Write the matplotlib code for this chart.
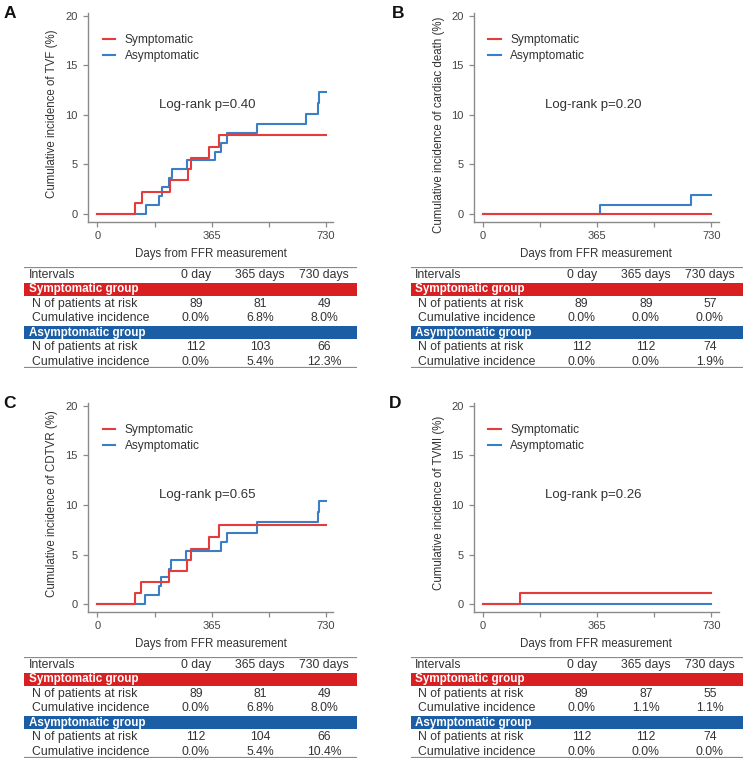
import matplotlib
matplotlib.use("Agg")
import matplotlib.pyplot as plt
from matplotlib.ticker import FixedLocator

plt.rcParams['font.family'] = ['Liberation Sans', 'DejaVu Sans']

# ---- data ----
panel_letters = ['A', 'B', 'C', 'D']
endpoints = ['TVF', 'cardiac death', 'CDTVR', 'TVMI']
logrank_p = ['0.40', '0.20', '0.65', '0.26']

# step curves (day of event, cumulative incidence %)
sym_days = [
    [0, 120, 141, 232, 288, 299, 355, 387, 730],
    [0, 730],
    [0, 121, 138, 228, 286, 299, 356, 387, 730],
    [0, 120, 730],
]
sym_inc = [
    [0, 1.1, 2.2, 3.4, 4.5, 5.6, 6.8, 8.0, 8.0],
    [0, 0],
    [0, 1.1, 2.2, 3.4, 4.5, 5.6, 6.8, 8.0, 8.0],
    [0, 1.1, 1.1],
]
asym_days = [
    [0, 155, 198, 205, 230, 237, 286, 376, 394, 413, 509, 666, 704, 707, 730],
    [0, 374, 666, 730],
    [0, 153, 196, 203, 228, 236, 284, 394, 413, 509, 703, 707, 730],
    [0, 730],
]
asym_inc = [
    [0, 0.9, 1.8, 2.7, 3.6, 4.5, 5.4, 6.3, 7.2, 8.2, 9.1, 10.1, 11.2, 12.3, 12.3],
    [0, 0.9, 1.9, 1.9],
    [0, 0.9, 1.8, 2.7, 3.6, 4.5, 5.4, 6.3, 7.2, 8.3, 9.3, 10.4, 10.4],
    [0, 0],
]

# risk tables
intervals = ['0 day', '365 days', '730 days']
sym_risk = [[89, 81, 49], [89, 89, 57], [89, 81, 49], [89, 87, 55]]
sym_cum = [[0.0, 6.8, 8.0], [0.0, 0.0, 0.0], [0.0, 6.8, 8.0], [0.0, 1.1, 1.1]]
asym_risk = [[112, 103, 66], [112, 112, 74], [112, 104, 66], [112, 112, 74]]
asym_cum = [[0.0, 5.4, 12.3], [0.0, 0.0, 1.9], [0.0, 5.4, 10.4], [0.0, 0.0, 0.0]]

# ---- style ----
RED = '#E63B3B'
BLUE = '#3A7FC6'
BAND_RED = '#D81F22'
BAND_BLUE = '#1B5EA6'
GREY = '#8a8a8a'
TXT = '#333333'

W, H = 746, 764
fig = plt.figure(figsize=(W / 100, H / 100), dpi=100)


def px_axes(l, t, r, b):
    return fig.add_axes([l / W, 1 - b / H, (r - l) / W, (b - t) / H])


plot_boxes = [(88, 13.3, 333.5, 222), (473.5, 13.3, 719, 222),
              (88, 403.3, 333.5, 612.3), (473.5, 403.3, 719, 612.3)]
table_boxes = [(24.3, 267.3, 356.7, 368.3), (410.5, 267.3, 742.5, 368.3),
               (24.3, 657.3, 356.7, 758.3), (410.5, 657.3, 742.5, 758.3)]
letter_pos = [(4, 14), (392, 14), (3, 404), (389, 404)]
ylab_x = [-0.122, -0.115, -0.122, -0.118]
ylab_y = [0.52, 0.465, 0.52, 0.525]

for i in range(4):
    ax = px_axes(*plot_boxes[i])
    ax.step(asym_days[i], asym_inc[i], where='post', color=BLUE, lw=1.5, label='Asymptomatic')
    ax.step(sym_days[i], sym_inc[i], where='post', color=RED, lw=1.5, label='Symptomatic')
    ax.set_xlim(-30, 754)
    ax.set_ylim(-0.81, 20.24)
    ax.set_xticks([0, 365, 730])
    ax.xaxis.set_minor_locator(FixedLocator([182.5, 547.5]))
    ax.set_yticks([0, 5, 10, 15, 20])
    for s in ['top', 'right']:
        ax.spines[s].set_visible(False)
    for s in ['left', 'bottom']:
        ax.spines[s].set_color(GREY)
        ax.spines[s].set_linewidth(1.0)
    ax.tick_params(which='both', direction='out', length=3.8, width=0.9, color=GREY,
                   labelsize=8, labelcolor='#444444')
    ax.tick_params(axis='x', pad=2.5)
    ax.tick_params(axis='y', pad=3.5)
    ax.set_xlabel('Days from FFR measurement', fontsize=8.3, color=TXT, labelpad=5)
    ax.set_ylabel('Cumulative incidence of %s (%%)' % endpoints[i], fontsize=8.3, color=TXT)
    ax.yaxis.set_label_coords(ylab_x[i], ylab_y[i])
    h, l = ax.get_legend_handles_labels()
    ax.legend(h[::-1], l[::-1], loc='upper left', bbox_to_anchor=(0.06, 0.90), frameon=False,
              fontsize=8.6, handlelength=1.05, handletextpad=0.8, labelspacing=0.3,
              borderpad=0, borderaxespad=0, labelcolor=TXT)
    ax.text(352, 11.0, 'Log-rank p=' + logrank_p[i], ha='center', va='center',
            fontsize=9.5, color=TXT)
    fig.text(letter_pos[i][0] / W, 1 - letter_pos[i][1] / H, panel_letters[i],
             ha='left', va='center', fontsize=12.5, fontweight='bold', color='#111111')

    # table
    tx = px_axes(*table_boxes[i])
    tx.set_xlim(0, 1)
    tx.set_ylim(6.47, -0.53)
    tx.axis('off')
    tx.axhline(-0.53, color=GREY, lw=1.6)
    tx.axhline(6.47, color=GREY, lw=1.6)
    tx.axhspan(1 - 0.465, 1 + 0.465, color=BAND_RED, lw=0)
    tx.axhspan(4 - 0.465, 4 + 0.465, color=BAND_BLUE, lw=0)
    cols = [0.516, 0.709, 0.902]
    fs = 8.8
    tx.text(0.014, 0, 'Intervals', ha='left', va='center', fontsize=fs, color=TXT)
    for c, lab in zip(cols, intervals):
        tx.text(c, 0, lab, ha='center', va='center', fontsize=fs, color=TXT)
    tx.text(0.014, 1, 'Symptomatic group', ha='left', va='center', fontsize=8.4,
            color='white', fontweight='bold')
    tx.text(0.014, 4, 'Asymptomatic group', ha='left', va='center', fontsize=8.4,
            color='white', fontweight='bold')
    rows = [(2, 'N of patients at risk', [str(v) for v in sym_risk[i]]),
            (3, 'Cumulative incidence', ['%.1f%%' % v for v in sym_cum[i]]),
            (5, 'N of patients at risk', [str(v) for v in asym_risk[i]]),
            (6, 'Cumulative incidence', ['%.1f%%' % v for v in asym_cum[i]])]
    for r, lab, vals in rows:
        tx.text(0.024, r, lab, ha='left', va='center', fontsize=fs, color=TXT)
        for c, v in zip(cols, vals):
            tx.text(c, r, v, ha='center', va='center', fontsize=fs, color=TXT)

fig.savefig('out.png', dpi=100)
